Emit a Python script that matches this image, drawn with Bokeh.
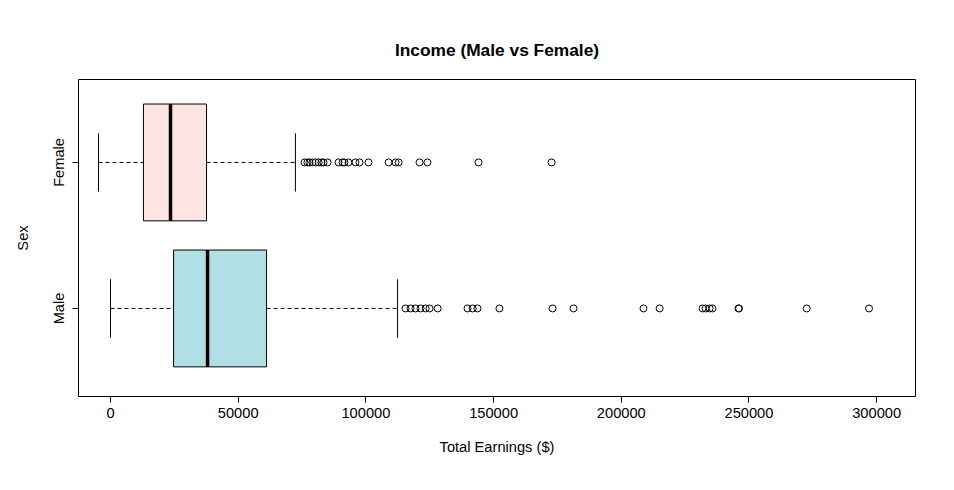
from bokeh.plotting import figure
from bokeh.models import FixedTicker, Title
from bokeh.embed import file_html
from bokeh.resources import INLINE

groups = ["Male", "Female"]
positions = [1, 2]
lower_whisker = [0, -4700]
q1 = [24700, 12900]
median = [38000, 23500]
q3 = [61100, 37600]
upper_whisker = [112400, 72400]
fills = ["#B0E0E6", "#FFE4E1"]

male_outliers = [115500, 117500, 119400, 121400, 123400, 124900, 128100, 139800,
                 141800, 143700, 152300, 173100, 181300, 208700, 215000, 231800,
                 233000, 234600, 235700, 245900, 246100, 272600, 297000]
female_outliers = [76000, 77100, 77900, 79100, 80300, 81500, 82600, 83400, 85000,
                   89300, 90900, 91600, 93200, 95900, 97500, 101000, 108900,
                   111600, 112800, 121000, 124100, 144100, 172700]

p = figure(width=938, height=474, output_backend="svg", toolbar_location=None,
           x_range=(-12530, 315200), y_range=(0.397, 2.568),
           min_border_left=78, min_border_right=23, min_border_top=79, min_border_bottom=78)
p.title = Title(text="Income (Male vs Female)", align="center", text_font="Liberation Sans",
                text_font_size="13pt", text_font_style="bold", text_color="black",
                offset=0, standoff=39)
p.xgrid.visible = False
p.ygrid.visible = False
p.outline_line_color = "black"
p.outline_line_width = 1

half = 0.4
cap = 0.2
p.quad(left=q1, right=q3, bottom=[y - half for y in positions], top=[y + half for y in positions],
       fill_color=fills, line_color="black")
p.segment(x0=median, x1=median, y0=[y - half for y in positions], y1=[y + half for y in positions],
          line_color="black", line_width=3.5)
p.segment(x0=lower_whisker, x1=q1, y0=positions, y1=positions, line_color="black", line_dash="4 3")
p.segment(x0=q3, x1=upper_whisker, y0=positions, y1=positions, line_color="black", line_dash="4 3")
p.segment(x0=lower_whisker, x1=lower_whisker, y0=[y - cap for y in positions],
          y1=[y + cap for y in positions], line_color="black")
p.segment(x0=upper_whisker, x1=upper_whisker, y0=[y - cap for y in positions],
          y1=[y + cap for y in positions], line_color="black")
p.scatter(male_outliers, [1] * len(male_outliers), size=7, fill_color=None, line_color="black")
p.scatter(female_outliers, [2] * len(female_outliers), size=7, fill_color=None, line_color="black")

p.xaxis.ticker = FixedTicker(ticks=[0, 50000, 100000, 150000, 200000, 250000, 300000])
p.xaxis.major_label_overrides = {t: str(t) for t in [0, 50000, 100000, 150000, 200000, 250000, 300000]}
p.yaxis.ticker = FixedTicker(ticks=positions)
p.yaxis.major_label_overrides = {1: "Male", 2: "Female"}
p.yaxis.major_label_orientation = "vertical"
p.xaxis.axis_label = "Total Earnings ($)"
p.yaxis.axis_label = "Sex"
for ax in (p.xaxis[0], p.yaxis[0]):
    ax.axis_line_color = None
    ax.minor_tick_line_color = None
    ax.major_tick_line_color = "black"
    ax.major_tick_in = 0
    ax.major_tick_out = 6
    ax.major_label_text_font = "Liberation Sans"
    ax.major_label_text_font_size = "11pt"
    ax.major_label_text_color = "black"
    ax.axis_label_text_font = "Liberation Sans"
    ax.axis_label_text_font_size = "11pt"
    ax.axis_label_text_font_style = "normal"
    ax.axis_label_text_color = "black"
    ax.axis_label_standoff = 18

open("out.html", "w").write(file_html(p, INLINE))
